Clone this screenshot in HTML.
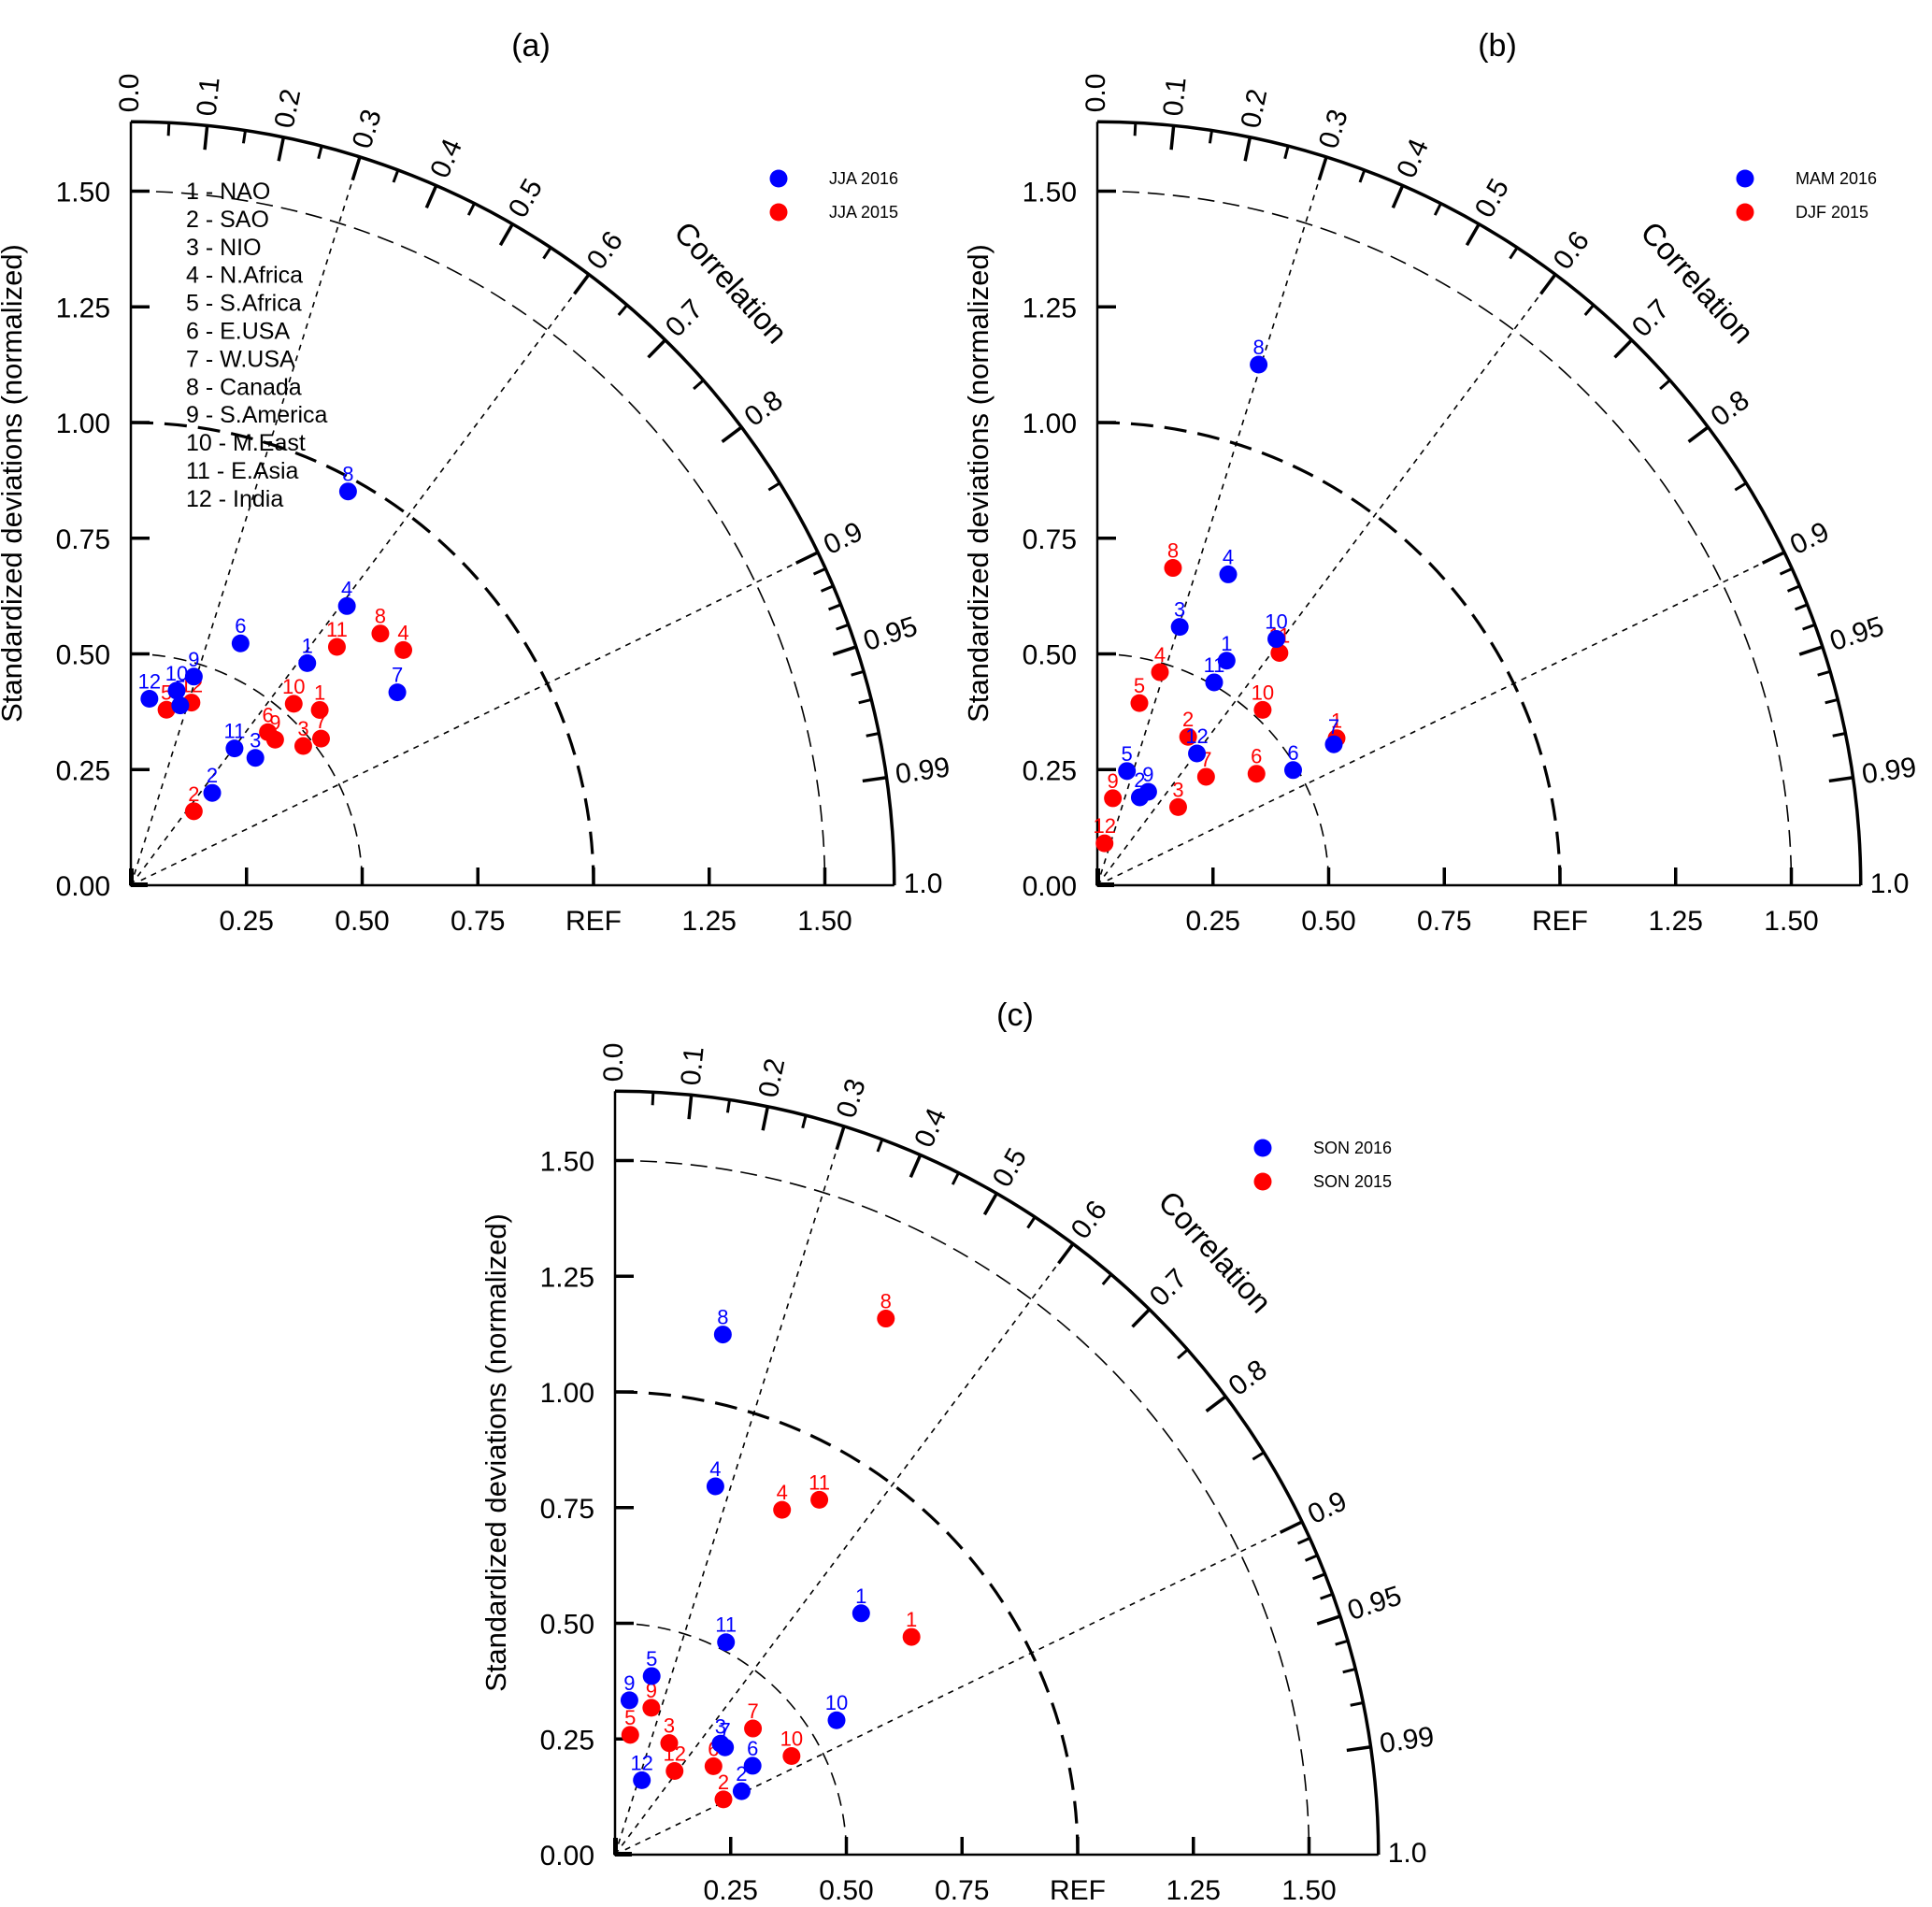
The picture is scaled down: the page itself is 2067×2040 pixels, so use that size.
<!DOCTYPE html>
<html><head><meta charset="utf-8"><style>
html,body{margin:0;padding:0;background:#fff;}
svg{display:block;font-family:"Liberation Sans",Arial,sans-serif;}
</style></head><body>
<svg id="chart" width="2067" height="2040" viewBox="0 0 2067 2040" xmlns="http://www.w3.org/2000/svg"></svg>
<script>
// ---- data: normalized std dev and correlation per region (1..12) ----
const regions = ["NAO","SAO","NIO","N.Africa","S.Africa","E.USA","W.USA","Canada","S.America","M.East","E.Asia","India"];
const corrMajor = [0.0,0.1,0.2,0.3,0.4,0.5,0.6,0.7,0.8,0.9,0.95,0.99,1.0];
const corrMinor = [0.05,0.15,0.25,0.35,0.45,0.55,0.65,0.75,0.85,0.91,0.92,0.93,0.94,0.96,0.97,0.98];
const stdTicks = [0.25,0.5,0.75,1.0,1.25,1.5];
const xTickLabels = ["0.25","0.50","0.75","REF","1.25","1.50"];
const yTickLabels = ["0.00","0.25","0.50","0.75","1.00","1.25","1.50"];

const aBlueStd  = [0.613,0.266,0.385,0.763,0.403,0.574,0.711,0.972,0.471,0.432,0.371,0.405];
const aBlueCorr = [0.622,0.661,0.699,0.612,0.265,0.413,0.810,0.483,0.289,0.229,0.604,0.099];
const aRedStd   = [0.557,0.210,0.479,0.778,0.387,0.444,0.519,0.766,0.443,0.527,0.681,0.416];
const aRedCorr  = [0.733,0.648,0.778,0.757,0.199,0.667,0.792,0.704,0.704,0.668,0.654,0.315];

const bBlueStd  = [0.560,0.211,0.586,0.729,0.255,0.491,0.595,1.178,0.230,0.658,0.506,0.357];
const bBlueCorr = [0.499,0.435,0.304,0.388,0.251,0.862,0.859,0.296,0.478,0.588,0.499,0.603];
const bRedStd   = [0.607,0.376,0.243,0.480,0.404,0.420,0.332,0.705,0.191,0.521,0.638,0.092];
const bRedCorr  = [0.852,0.522,0.719,0.282,0.225,0.819,0.708,0.232,0.176,0.686,0.617,0.170];

const cBlueStd  = [0.745,0.306,0.331,0.825,0.394,0.354,0.332,1.148,0.335,0.560,0.518,0.171];
const cBlueCorr = [0.714,0.894,0.689,0.263,0.201,0.840,0.716,0.203,0.093,0.855,0.463,0.339];
const cRedStd   = [0.795,0.263,0.268,0.828,0.261,0.286,0.404,1.298,0.327,0.437,0.885,0.222];
const cRedCorr  = [0.806,0.891,0.437,0.436,0.126,0.744,0.738,0.451,0.240,0.873,0.499,0.580];

const NS = "http://www.w3.org/2000/svg";
const svg = document.getElementById('chart');
const U = 495, RMAX = 1.65;
function mk(tag, attrs, parent, text){
  const e = document.createElementNS(NS, tag);
  for (const k in attrs) e.setAttribute(k, attrs[k]);
  if (text !== undefined) e.textContent = text;
  (parent||svg).appendChild(e);
  return e;
}
function arcPath(ox, oy, r){
  return `M${ox},${oy - r} A${r},${r} 0 0 1 ${ox + r},${oy}`;
}
function panel(id, title, ox, oy, legendNames, blueStd, blueCorr, redStd, redCorr, showList){
  const g = mk('g', {}, svg);
  
  
  const px = (s, c) => ox + s * U * c;
  const py = (s, c) => oy - s * U * Math.sqrt(Math.max(0, 1 - c * c));
  const t = mk('text', {x: ox + 428, y: oy - 887, 'font-size': 34, 'text-anchor': 'middle'}, g, title);
  
  
  [[0.5, 1.6, '14,9'], [1.0, 3.2, '24,12'], [1.5, 1.6, '18,9']].forEach(([r, w, d]) => {
    const a = mk('path', {d: arcPath(ox, oy, r*U), fill: 'none', stroke: '#000', 'stroke-width': w, 'stroke-dasharray': d}, g);
    
    
  });
  [0.3, 0.6, 0.9].forEach(c => {
    const l = mk('line', {x1: ox, y1: oy, x2: px(RMAX, c), y2: py(RMAX, c), stroke: '#000', 'stroke-width': 1.6, 'stroke-dasharray': '6,6'}, g);
    
    
  });
  const ax = mk('path', {d: `M${ox},${oy - RMAX*U} L${ox},${oy} L${ox + RMAX*U},${oy}`, fill: 'none', stroke: '#000', 'stroke-width': 2.5}, g);
  
  
  const outer = mk('path', {d: arcPath(ox, oy, RMAX*U), fill: 'none', stroke: '#000', 'stroke-width': 3.5}, g);
  
  
  mk('rect', {x: ox-2, y: oy-18, width: 5, height: 18, fill: '#000'}, g);
  mk('rect', {x: ox, y: oy-3, width: 18, height: 5, fill: '#000'}, g);
  stdTicks.forEach((v, i) => {
    mk('line', {x1: ox + v*U, y1: oy, x2: ox + v*U, y2: oy - 19, stroke: '#000', 'stroke-width': 3.5}, g);
    mk('line', {x1: ox, y1: oy - v*U, x2: ox + 20, y2: oy - v*U, stroke: '#000', 'stroke-width': 3.5}, g);
    const xl = mk('text', {x: ox + v*U, y: oy + 48, 'font-size': 30, 'text-anchor': 'middle'}, g, xTickLabels[i]);
    
    
  });
  yTickLabels.forEach((lab, i) => {
    const yl = mk('text', {x: ox - 22, y: oy - i*0.25*U + 11, 'font-size': 30, 'text-anchor': 'end'}, g, lab);
    
    
  });
  const yt = mk('text', {x: 0, y: 0, 'font-size': 31, 'text-anchor': 'middle', transform: `translate(${ox - 117},${oy - 430}) rotate(-90)`}, g, 'Standardized  deviations (normalized)');
  
  
  corrMajor.forEach(c => {
    const r0 = RMAX*U, r1 = r0 - 26;
    const s = Math.sqrt(1 - c*c);
    if (c > 0 && c < 1) mk('line', {x1: ox + r0*c, y1: oy - r0*s, x2: ox + r1*c, y2: oy - r1*s, stroke: '#000', 'stroke-width': 3.5}, g);
    const rl = r0 + 10;
    const ang = Math.acos(c) * 180 / Math.PI;
    const lab = c === 0 ? '0.0' : c === 1 ? '1.0' : String(c);
    const tl = mk('text', {x: 0, y: 0, 'font-size': 30, 'dominant-baseline': 'middle', transform: `translate(${ox + rl*c},${oy - rl*s}) rotate(${-ang})`}, g, lab);
    
    
  });
  corrMinor.forEach(c => {
    const r0 = RMAX*U, r1 = r0 - 14, s = Math.sqrt(1 - c*c);
    mk('line', {x1: ox + r0*c, y1: oy - r0*s, x2: ox + r1*c, y2: oy - r1*s, stroke: '#000', 'stroke-width': 3}, g);
  });
  const cl = mk('text', {x: 0, y: 0, 'font-size': 33, 'text-anchor': 'middle', 'dominant-baseline': 'middle', transform: `translate(${ox + 640},${oy - 643}) rotate(48)`}, g, 'Correlation');
  
  
  [['#0000ff', legendNames[0]], ['#ff0000', legendNames[1]]].forEach(([col, nm], i) => {
    const lg = mk('g', {}, g);
    
    
    mk('circle', {cx: ox + 693, cy: oy - 756 + i*36, r: 9.5, fill: col}, lg);
    mk('text', {x: ox + 747, y: oy - 750 + i*36, 'font-size': 18}, lg, nm);
  });
  if (showList) {
    regions.forEach((r, i) => {
      const tx = mk('text', {x: ox + 59, y: oy - 734 + i*29.9, 'font-size': 25}, g, (i+1) + ' - ' + r);
      
      
    });
  }
  [[redStd, redCorr, '#ff0000', 'red'], [blueStd, blueCorr, '#0000ff', 'blue']].forEach(([S, C, col, nm]) => {
    S.forEach((s, i) => {
      const x = px(s, C[i]), y = py(s, C[i]);
      const pg = mk('g', {}, g);
      
      
      mk('circle', {cx: x, cy: y, r: 9.5, fill: col}, pg);
      mk('text', {x: x, y: y - 11, 'font-size': 22, 'text-anchor': 'middle', fill: col}, pg, String(i+1));
    });
  });
}
panel('a', '(a)', 140, 947, ['JJA 2016', 'JJA 2015'], aBlueStd, aBlueCorr, aRedStd, aRedCorr, true);
panel('b', '(b)', 1174, 947, ['MAM 2016', 'DJF 2015'], bBlueStd, bBlueCorr, bRedStd, bRedCorr, false);
panel('c', '(c)', 658, 1984, ['SON 2016', 'SON 2015'], cBlueStd, cBlueCorr, cRedStd, cRedCorr, false);
</script>
</body></html>
